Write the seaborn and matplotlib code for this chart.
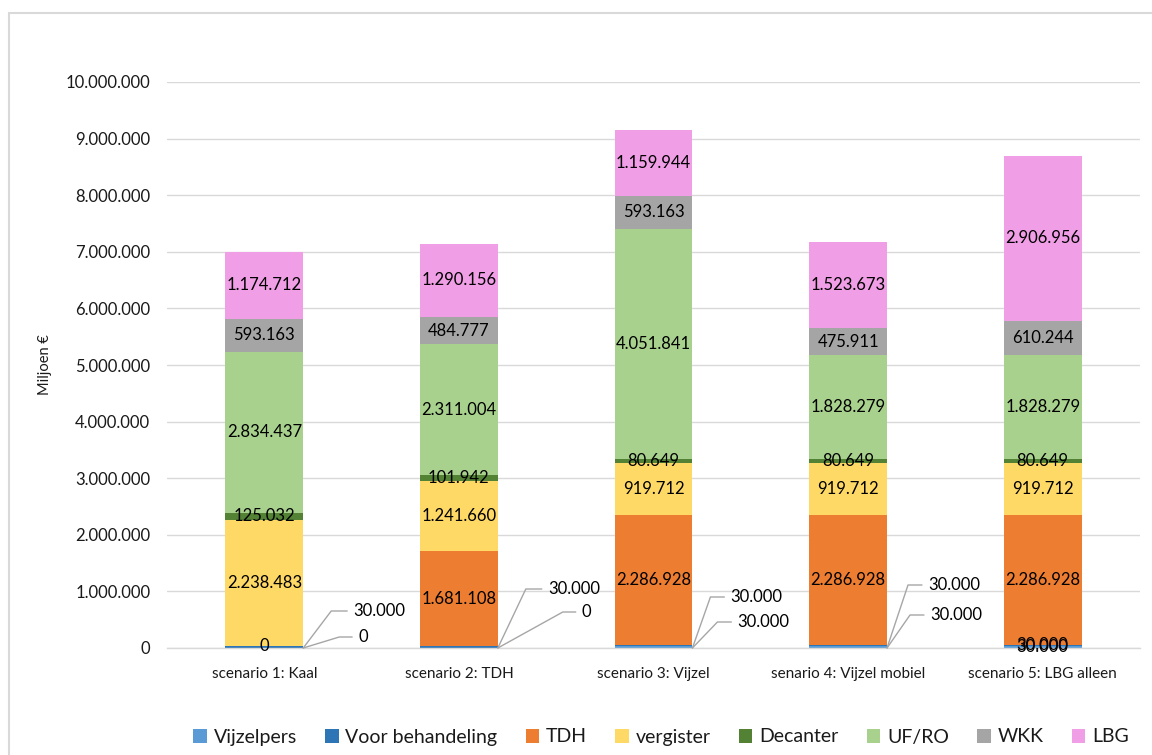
import numpy as np
import pandas as pd
import matplotlib
matplotlib.use("Agg")
import matplotlib.pyplot as plt
import seaborn as sns
from matplotlib.patches import Patch, Rectangle

# ---------------- data ----------------
categories = ["scenario 1: Kaal", "scenario 2: TDH", "scenario 3: Vijzel",
              "senario 4: Vijzel mobiel", "scenario 5: LBG alleen"]
series_names = ["Vijzelpers", "Voor behandeling", "TDH", "vergister",
                "Decanter", "UF/RO", "WKK", "LBG"]
vijzelpers = [0, 0, 30000, 30000, 30000]
voor_behandeling = [30000, 30000, 30000, 30000, 30000]
tdh = [0, 1681108, 2286928, 2286928, 2286928]
vergister = [2238483, 1241660, 919712, 919712, 919712]
decanter = [125032, 101942, 80649, 80649, 80649]
uf_ro = [2834437, 2311004, 4051841, 1828279, 1828279]
wkk = [593163, 484777, 593163, 475911, 610244]
lbg = [1174712, 1290156, 1159944, 1523673, 2906956]
ytick_values = list(range(0, 10_000_001, 1_000_000))

# ---------------- style ----------------
colors = ["#5B9BD5", "#2E75B6", "#ED7D31", "#FFD966",
          "#548235", "#A9D18E", "#A5A5A5", "#F09EE6"]
# leader-line label offsets (pixels from bar bottom-right corner):
# (elbow dx, elbow dy, text dx) for lower (Vijzelpers) and upper (Voor behandeling) labels
leader_lower = [(36, 11, 55), (65, 36, 84), (25, 26, 45), (23, 33, 43)]
leader_upper = [(28, 37, 50), (28, 59, 50), (18, 51, 38), (21, 63, 41)]

sns.set_theme(style="white")
plt.rcParams["font.family"] = ["Lato", "DejaVu Sans"]

W, H = 1152, 755
fig = plt.figure(figsize=(W / 100, H / 100), dpi=100)
ax = fig.add_axes([167 / W, 1 - 648 / H, (1140 - 167) / W, (648 - 82) / H])

values = np.array([vijzelpers, voor_behandeling, tdh, vergister,
                   decanter, uf_ro, wkk, lbg], dtype=float)
cum = values.cumsum(axis=0)
bottoms = cum - values

for i in reversed(range(len(series_names))):
    df = pd.DataFrame({"cat": categories, "top": cum[i]})
    sns.barplot(data=df, x="cat", y="top", order=categories, color=colors[i],
                saturation=1, width=0.4, errorbar=None, ax=ax, linewidth=0)

ax.set_ylim(0, 10_000_000)
ax.set_xlim(-0.5, len(categories) - 0.5)
ax.set_yticks(ytick_values)
ax.set_yticklabels([f"{v:,}".replace(",", ".") for v in ytick_values])
ax.yaxis.grid(True, color="#D9D9D9", lw=1)
ax.set_axisbelow(True)
for s in ["top", "right", "left"]:
    ax.spines[s].set_visible(False)
ax.spines["bottom"].set_color("#D9D9D9")
ax.spines["bottom"].set_linewidth(1)
ax.tick_params(axis="y", length=0, pad=12, labelsize=12, labelcolor="#1a1a1a")
ax.tick_params(axis="x", length=0, pad=14, labelsize=11, labelcolor="#1a1a1a")
ax.set_xlabel("")
ax.set_ylabel("")

fmt = lambda v: f"{int(v):,}".replace(",", ".")
label_fs = 12

for j in range(len(categories)):
    for i in range(len(series_names)):
        v = values[i, j]
        if i < 2 and j < 4:
            ex, ey, tx = (leader_lower if i == 0 else leader_upper)[j]
            ang = np.degrees(np.arctan2(ey, ex))
            ax.annotate(fmt(v), xy=(j + 0.2, 0), xycoords="data",
                        xytext=(tx, ey), textcoords="offset pixels",
                        ha="left", va="center", fontsize=label_fs, color="#000000",
                        arrowprops=dict(arrowstyle="-", color="#A6A6A6", lw=1,
                                        shrinkA=2, shrinkB=0, relpos=(0, 0.5),
                                        connectionstyle=f"angle,angleA=0,angleB={ang},rad=0"))
        else:
            ax.text(j, bottoms[i, j] + v / 2, fmt(v), ha="center", va="center",
                    fontsize=label_fs, color="#000000")

fig.text(45 / W, 1 - 365 / H, "Miljoen €", rotation=90, ha="center",
         va="center", fontsize=10.5, color="#1a1a1a")

handles = [Patch(facecolor=c, edgecolor="none", label=n)
           for c, n in zip(colors, series_names)]
fig.legend(handles=handles, loc="center", bbox_to_anchor=(661 / W, 1 - 737 / H),
           ncol=len(series_names), frameon=False, fontsize=14,
           handlelength=0.7, handleheight=0.7, handletextpad=0.35,
           columnspacing=1.45, labelcolor="#1a1a1a")

fig.add_artist(Rectangle((9 / W, -0.1), 2, 1 - 13 / H + 0.1,
                         transform=fig.transFigure, fill=False,
                         edgecolor="#D9D9D9", lw=1.5))

fig.savefig("out.png", dpi=100, facecolor="white")
